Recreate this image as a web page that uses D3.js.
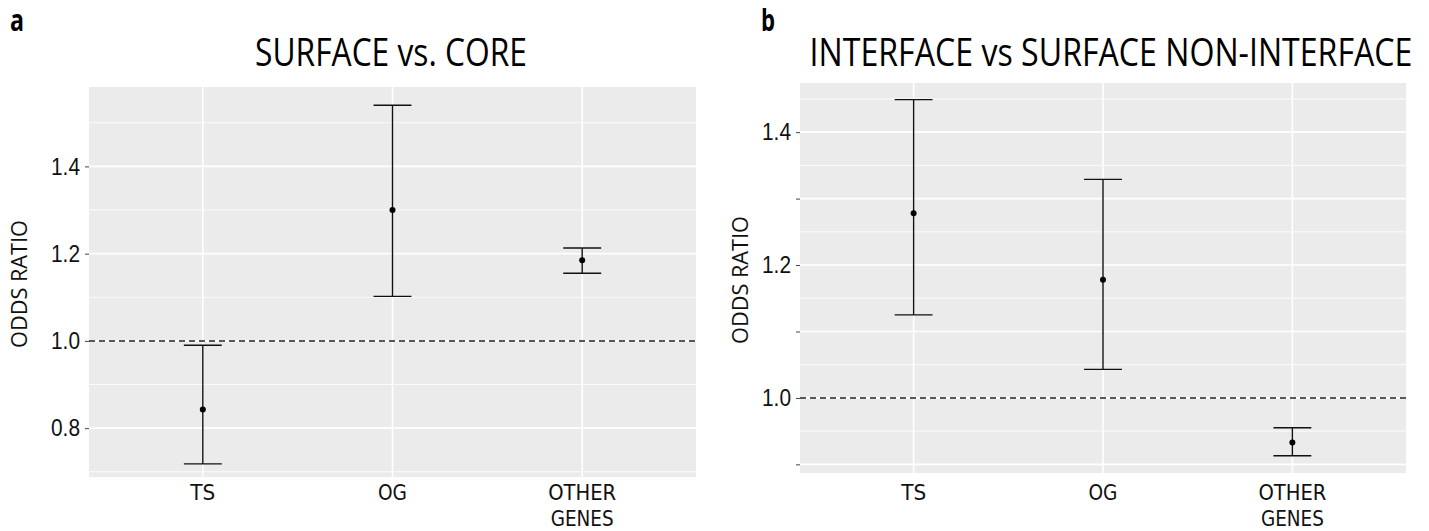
<!DOCTYPE html>
<html>
<head>
<meta charset="utf-8">
<script src="https://cdn.jsdelivr.net/npm/d3@7"></script>
<style>
  body { margin: 0; background: #fff; }
  svg { display: block; font-family: "Open Sans", "DejaVu Sans", sans-serif; }
</style>
</head>
<body>
<div id="chart"></div>
<script>
const categories = ["TS", "OG", "OTHER GENES"];
const categoryLines = [["TS"], ["OG"], ["OTHER", "GENES"]];

// panel a: SURFACE vs. CORE
const estA = [0.843, 1.300, 1.185];
const lowA = [0.718, 1.102, 1.155];
const highA = [0.990, 1.540, 1.213];
const domainA = [0.688, 1.582];
const ticksA = [0.8, 1.0, 1.2, 1.4];
const labelsA = ["0.8", "1.0", "1.2", "1.4"];
const minorA = [0.7, 0.9, 1.1, 1.3, 1.5];

// panel b: INTERFACE vs SURFACE NON-INTERFACE
const estB = [1.278, 1.178, 0.933];
const lowB = [1.125, 1.043, 0.913];
const highB = [1.449, 1.329, 0.955];
const domainB = [0.887, 1.474];
const ticksB = [0.9, 1.0, 1.1, 1.2, 1.3, 1.4];
const labelsB = ["", "1.0", "", "1.2", "", "1.4"];
const minorB = [0.95, 1.05, 1.15, 1.25, 1.35, 1.45];

const W = 1429, H = 531;
const wordWidth = { TS: 25, OG: 29, OTHER: 68, GENES: 63 };

const svg = d3.select("#chart").append("svg")
    .attr("width", W)
    .attr("height", H);

// squeeze a text horizontally to a wanted width (the reference font is condensed)
function squeeze(sel, x, y, width, anchor) {
    const natural = sel.node().getComputedTextLength();
    const sx = width / natural;
    sel.attr("x", null).attr("y", null)
        .attr("text-anchor", anchor)
        .attr("transform", `translate(${x},${y}) scale(${sx},1)`);
}

function panel(opts) {
    const { left, right, top, bottom, est, low, high, domain, ticks, labels, minor,
            title, titleX, titleLen, tag, tagX, ylabX } = opts;

    const x = d3.scalePoint()
        .domain(categories)
        .range([left, right])
        .padding(0.6);
    const y = d3.scaleLinear()
        .domain(domain)
        .range([bottom, top]);

    const g = svg.append("g");

    g.append("rect")
        .attr("x", left).attr("y", top)
        .attr("width", right - left).attr("height", bottom - top)
        .attr("fill", "#ebebeb");

    g.selectAll(".minor").data(minor).join("line")
        .attr("x1", left).attr("x2", right)
        .attr("y1", d => y(d)).attr("y2", d => y(d))
        .attr("stroke", "#fff").attr("stroke-width", 0.8);
    g.selectAll(".major").data(ticks).join("line")
        .attr("x1", left).attr("x2", right)
        .attr("y1", d => y(d)).attr("y2", d => y(d))
        .attr("stroke", "#fff").attr("stroke-width", 1.6);
    g.selectAll(".vgrid").data(categories).join("line")
        .attr("x1", d => x(d)).attr("x2", d => x(d))
        .attr("y1", top).attr("y2", bottom)
        .attr("stroke", "#fff").attr("stroke-width", 1.6);

    // reference line at 1
    g.append("line")
        .attr("x1", left).attr("x2", right)
        .attr("y1", y(1)).attr("y2", y(1))
        .attr("stroke", "#222").attr("stroke-width", 1.5)
        .attr("stroke-dasharray", "6,4");

    // y axis
    const yAxis = d3.axisLeft(y)
        .tickValues(ticks)
        .tickFormat((d, i) => labels[i])
        .tickSize(4)
        .tickPadding(5);
    const ax = g.append("g")
        .attr("transform", `translate(${left},0)`)
        .call(yAxis);
    ax.select(".domain").remove();
    ax.selectAll(".tick line").attr("stroke", "#444").attr("stroke-width", 1);
    ax.selectAll(".tick text")
        .attr("fill", "#111")
        .style("font-size", "24px")
        .attr("textLength", function () { return this.textContent ? 29 : null; })
        .attr("lengthAdjust", "spacingAndGlyphs");

    // x labels, one text per line
    categories.forEach((c, ci) => {
        categoryLines[ci].forEach((w, li) => {
            const t = g.append("text")
                .attr("fill", "#111")
                .style("font-family", "'DejaVu Sans Condensed', 'DejaVu Sans', sans-serif")
                .style("font-size", "22px")
                .text(w);
            squeeze(t, x(c), 500 + li * 25.5, wordWidth[w], "middle");
        });
    });

    // error bars
    const bars = g.selectAll(".bar").data(categories).join("g");
    const half = x.step() * 0.1;
    const ink = "#111";
    bars.append("line")
        .attr("x1", d => x(d)).attr("x2", d => x(d))
        .attr("y1", (d, i) => y(low[i])).attr("y2", (d, i) => y(high[i]))
        .attr("stroke", ink).attr("stroke-width", 1.4);
    bars.append("line")
        .attr("x1", d => x(d) - half).attr("x2", d => x(d) + half)
        .attr("y1", (d, i) => y(low[i])).attr("y2", (d, i) => y(low[i]))
        .attr("stroke", ink).attr("stroke-width", 1.4);
    bars.append("line")
        .attr("x1", d => x(d) - half).attr("x2", d => x(d) + half)
        .attr("y1", (d, i) => y(high[i])).attr("y2", (d, i) => y(high[i]))
        .attr("stroke", ink).attr("stroke-width", 1.4);
    bars.append("circle")
        .attr("cx", d => x(d))
        .attr("cy", (d, i) => y(est[i]))
        .attr("r", 3)
        .attr("fill", "#000");

    // y title
    g.append("text")
        .attr("transform", `translate(${ylabX},${(top + bottom) / 2 + 2}) rotate(-90)`)
        .attr("text-anchor", "middle")
        .attr("fill", "#111")
        .style("font-size", "22px")
        .attr("textLength", 128)
        .attr("lengthAdjust", "spacingAndGlyphs")
        .text("ODDS RATIO");

    // title
    const tt = g.append("text")
        .attr("fill", "#000")
        .style("font-size", "38px")
        .text(title);
    squeeze(tt, titleX, 66, titleLen, "middle");

    // panel tag
    const tg = g.append("text")
        .attr("fill", "#000")
        .style("font-size", "30px")
        .style("font-weight", "bold")
        .text(tag);
    squeeze(tg, tagX, 31, 14, "start");
}

panel({
    left: 89, right: 696, top: 87, bottom: 477,
    est: estA, low: lowA, high: highA, domain: domainA,
    ticks: ticksA, labels: labelsA, minor: minorA,
    title: "SURFACE vs. CORE", titleX: 391, titleLen: 272,
    tag: "a", tagX: 10, ylabX: 27
});

panel({
    left: 800, right: 1406, top: 83, bottom: 473,
    est: estB, low: lowB, high: highB, domain: domainB,
    ticks: ticksB, labels: labelsB, minor: minorB,
    title: "INTERFACE vs SURFACE NON-INTERFACE", titleX: 1111, titleLen: 603,
    tag: "b", tagX: 761, ylabX: 748
});
</script>
</body>
</html>
